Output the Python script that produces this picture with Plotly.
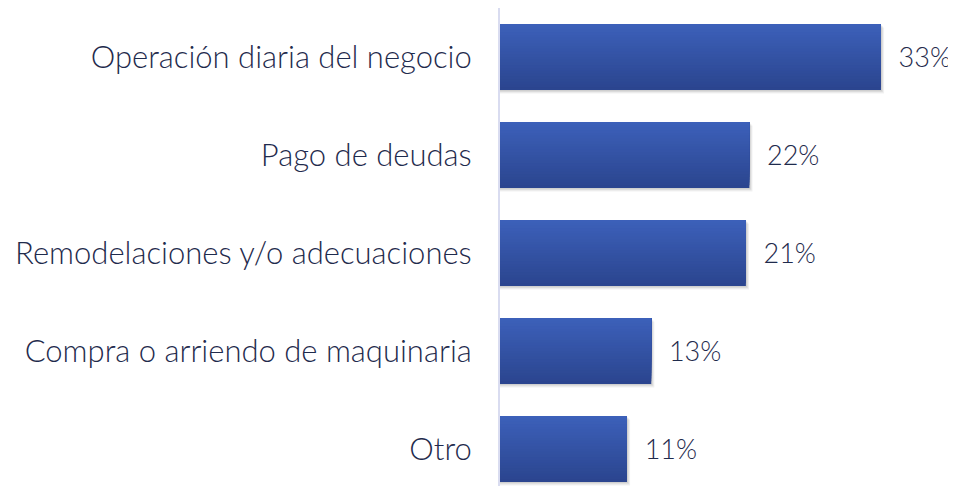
import plotly.graph_objects as go

categories = ["Otro", "Compra o arriendo de maquinaria", "Remodelaciones y/o adecuaciones",
              "Pago de deudas", "Operación diaria del negocio"]
values = [0.110, 0.131, 0.213, 0.216, 0.330]

top_rgb = (60, 96, 185)
bot_rgb = (43, 69, 143)
bar_w = 0.673
n_strips = 24
font_fam = "Lato, sans-serif"
text_col = "#1f2b4d"

fig = go.Figure()

# soft shadow
for k, alpha in enumerate([0.07, 0.07, 0.06]):
    fig.add_trace(go.Bar(
        y=categories, x=[v + 0.0009 * (k + 1) for v in values], orientation="h",
        offset=-bar_w / 2 - 0.012 * (k + 1), width=bar_w,
        marker=dict(color=f"rgba(0,0,0,{alpha})", line=dict(width=0)),
        hoverinfo="skip", showlegend=False))

h = bar_w / n_strips
for i in range(n_strips):
    t = i / (n_strips - 1)
    c = tuple(round(bot_rgb[j] + (top_rgb[j] - bot_rgb[j]) * t) for j in range(3))
    fig.add_trace(go.Bar(
        y=categories, x=values, orientation="h",
        offset=-bar_w / 2 + i * h, width=bar_w - i * h,
        marker=dict(color=f"rgb{c}", line=dict(width=0)),
        hoverinfo="skip", showlegend=False))

fig.add_trace(go.Bar(
    y=categories, x=values, orientation="h", width=bar_w,
    marker=dict(color="rgba(0,0,0,0)", line=dict(width=0)),
    texttemplate="\u00a0\u00a0%{x:.0%}", textposition="outside",
    textfont=dict(family=font_fam, size=27, color=text_col, weight=300),
    cliponaxis=False, showlegend=False))

fig.update_layout(
    width=948, height=478, barmode="overlay",
    margin=dict(l=492, r=0, t=0, b=0),
    paper_bgcolor="white", plot_bgcolor="white",
    xaxis=dict(range=[0, 0.395], visible=False),
    yaxis=dict(categoryorder="array", categoryarray=categories,
               range=[-0.378, 4.5], showline=True, linecolor="#d9dcf0", linewidth=2,
               showgrid=False, ticks="", ticklabelstandoff=20,
               tickfont=dict(family=font_fam, size=31, color=text_col, weight=300)),
    font=dict(family=font_fam),
)

fig.write_html("out.html")
